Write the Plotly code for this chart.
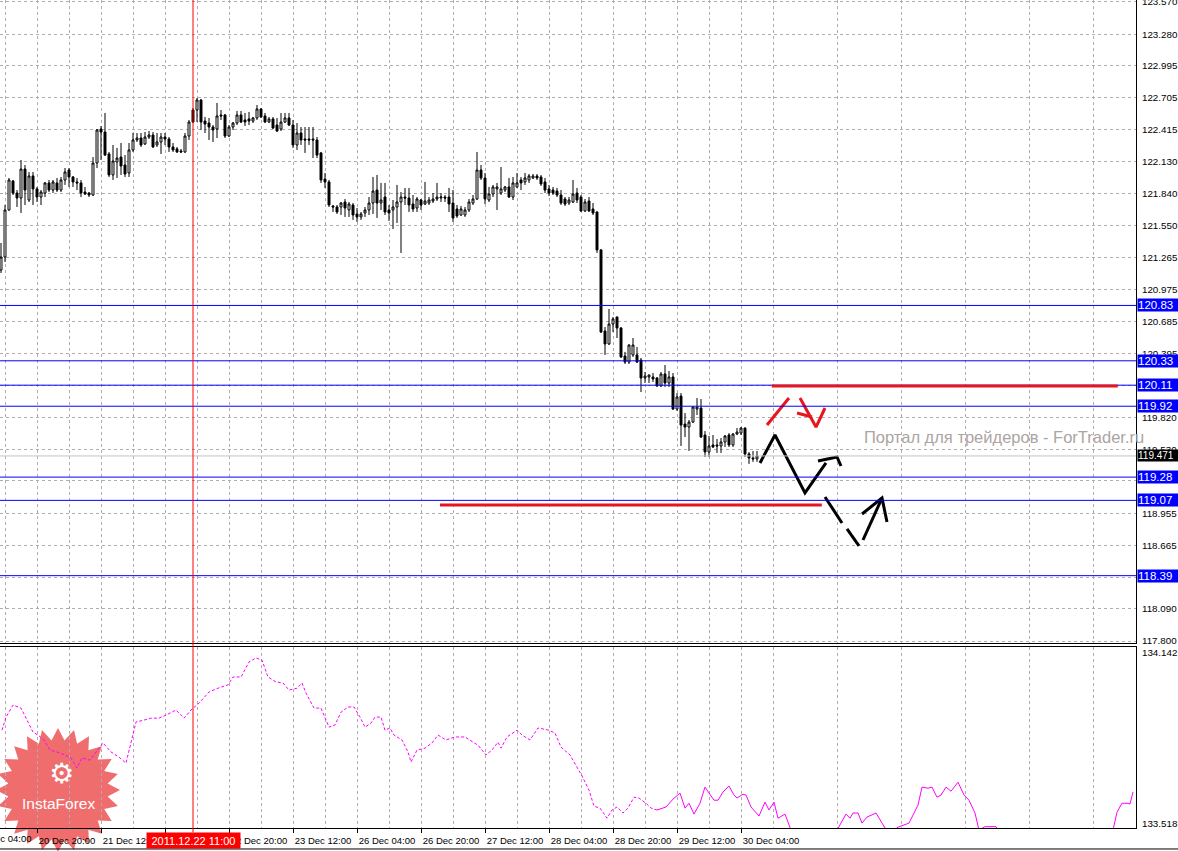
import math
import plotly.graph_objects as go

# ---------------- DATA ----------------
# H1 candles, bar 0 = 20 Dec 11:00
opens = [
    121.150, 121.267, 121.692, 121.954, 121.845, 121.800, 122.062, 121.782, 121.999, 121.882,
    121.809, 121.845, 121.936, 121.872, 121.936, 121.872, 121.963, 122.053, 121.990, 121.945,
    121.936, 121.854, 121.845, 121.827, 122.116, 122.423, 122.396, 122.198, 122.008, 122.125,
    122.170, 122.098, 122.026, 122.234, 122.324, 122.342, 122.288, 122.351, 122.369, 122.279,
    122.306, 122.351, 122.333, 122.261, 122.243, 122.225, 122.216, 122.360, 122.595, 122.595,
    122.685, 122.495, 122.477, 122.441, 122.423, 122.550, 122.550, 122.360, 122.441, 122.477,
    122.550, 122.505, 122.514, 122.495, 122.523, 122.604, 122.541, 122.486, 122.514, 122.459,
    122.423, 122.486, 122.523, 122.459, 122.279, 122.387, 122.333, 122.333, 122.333, 122.324,
    122.207, 121.972, 121.945, 121.728, 121.719, 121.719, 121.764, 121.692, 121.737, 121.656,
    121.629, 121.665, 121.692, 121.755, 121.872, 121.755, 121.809, 121.692, 121.692, 121.719,
    121.764, 121.809, 121.800, 121.746, 121.710, 121.782, 121.746, 121.755, 121.773, 121.791,
    121.800, 121.809, 121.809, 121.755, 121.701, 121.647, 121.647, 121.692, 121.755, 121.791,
    122.053, 121.981, 121.782, 121.836, 121.882, 121.845, 121.872, 121.900, 121.809, 121.900,
    121.963, 121.945, 121.963, 121.981, 121.999, 121.990, 121.945, 121.882, 121.872, 121.863,
    121.827, 121.791, 121.755, 121.764, 121.845, 121.809, 121.683, 121.773, 121.701, 121.674,
    121.331, 120.599, 120.482, 120.662, 120.726, 120.626, 120.374, 120.319, 120.383, 120.383,
    120.337, 120.175, 120.184, 120.184, 120.175, 120.103, 120.211, 120.130, 120.184, 119.895,
    120.012, 119.759, 119.732, 119.777, 119.895, 119.904, 119.660, 119.507, 119.570, 119.570,
    119.561, 119.597, 119.660, 119.570, 119.669, 119.678, 119.723, 119.489, 119.453, 119.444,
]
highs = [
    121.394, 121.737, 121.981, 121.963, 121.872, 122.143, 122.098, 122.035, 122.035, 121.900,
    121.872, 121.945, 121.963, 121.963, 121.981, 121.990, 122.071, 122.071, 121.999, 121.981,
    121.963, 121.900, 121.854, 122.170, 122.423, 122.450, 122.568, 122.216, 122.279, 122.252,
    122.297, 122.188, 122.297, 122.387, 122.387, 122.387, 122.396, 122.405, 122.396, 122.387,
    122.387, 122.387, 122.351, 122.297, 122.261, 122.243, 122.387, 122.505, 122.613, 122.703,
    122.694, 122.532, 122.523, 122.459, 122.658, 122.595, 122.559, 122.459, 122.486, 122.586,
    122.586, 122.568, 122.577, 122.532, 122.640, 122.613, 122.568, 122.532, 122.532, 122.523,
    122.568, 122.568, 122.568, 122.505, 122.477, 122.441, 122.441, 122.441, 122.441, 122.351,
    122.216, 122.026, 121.963, 121.737, 121.737, 121.764, 121.791, 121.764, 121.755, 121.710,
    121.674, 121.719, 121.809, 121.990, 122.008, 121.936, 121.936, 121.737, 121.782, 121.918,
    121.854, 121.891, 121.891, 121.827, 121.809, 121.791, 121.945, 121.809, 121.845, 121.936,
    121.845, 121.827, 121.891, 121.872, 121.737, 121.728, 121.719, 121.791, 121.827, 122.216,
    122.098, 122.026, 121.900, 121.918, 121.936, 122.080, 121.909, 121.981, 121.990, 122.026,
    121.990, 122.026, 122.017, 122.017, 122.017, 122.008, 121.981, 121.918, 121.900, 121.891,
    121.872, 121.809, 121.809, 121.963, 121.891, 121.827, 121.791, 121.809, 121.755, 121.680,
    121.340, 120.635, 120.798, 120.726, 120.730, 120.635, 120.410, 120.478, 120.536, 120.455,
    120.356, 120.229, 120.205, 120.220, 120.184, 120.229, 120.292, 120.238, 120.220, 120.039,
    120.039, 119.859, 119.796, 119.918, 119.994, 119.985, 119.696, 119.651, 119.660, 119.624,
    119.633, 119.660, 119.678, 119.678, 119.723, 119.732, 119.728, 119.507, 119.516, 119.516,
]
lows = [
    121.123, 121.222, 121.685, 121.827, 121.719, 121.665, 121.737, 121.764, 121.737, 121.764,
    121.737, 121.809, 121.854, 121.845, 121.854, 121.854, 121.918, 121.900, 121.900, 121.872,
    121.809, 121.827, 121.809, 121.818, 122.071, 122.143, 122.180, 121.990, 121.963, 121.981,
    122.008, 121.990, 121.990, 122.216, 122.306, 122.261, 122.279, 122.333, 122.252, 122.261,
    122.198, 122.279, 122.216, 122.216, 122.207, 122.207, 122.207, 122.324, 122.477, 122.486,
    122.414, 122.387, 122.324, 122.306, 122.342, 122.505, 122.342, 122.351, 122.414, 122.459,
    122.477, 122.450, 122.459, 122.477, 122.505, 122.523, 122.477, 122.477, 122.423, 122.396,
    122.405, 122.477, 122.450, 122.252, 122.234, 122.279, 122.207, 122.279, 122.161, 122.161,
    121.936, 121.891, 121.719, 121.674, 121.656, 121.647, 121.629, 121.629, 121.602, 121.584,
    121.602, 121.629, 121.647, 121.656, 121.620, 121.692, 121.647, 121.593, 121.520, 121.575,
    121.304, 121.737, 121.674, 121.674, 121.674, 121.692, 121.737, 121.737, 121.755, 121.773,
    121.764, 121.764, 121.674, 121.584, 121.620, 121.638, 121.629, 121.674, 121.737, 121.782,
    121.963, 121.746, 121.764, 121.809, 121.692, 121.827, 121.854, 121.800, 121.782, 121.891,
    121.872, 121.918, 121.936, 121.972, 121.963, 121.909, 121.845, 121.818, 121.827, 121.809,
    121.737, 121.728, 121.737, 121.755, 121.755, 121.674, 121.674, 121.674, 121.647, 121.304,
    120.581, 120.383, 120.473, 120.590, 120.536, 120.356, 120.301, 120.301, 120.365, 120.310,
    120.048, 120.130, 120.130, 120.139, 120.094, 120.094, 120.094, 120.094, 119.886, 119.877,
    119.561, 119.642, 119.516, 119.768, 119.841, 119.633, 119.462, 119.462, 119.543, 119.498,
    119.498, 119.552, 119.552, 119.552, 119.660, 119.660, 119.462, 119.399, 119.417, 119.417,
]
closes = [
    121.267, 121.692, 121.963, 121.845, 121.800, 122.062, 121.872, 121.999, 121.882, 121.809,
    121.854, 121.936, 121.872, 121.945, 121.872, 121.963, 122.035, 121.990, 121.945, 121.936,
    121.845, 121.836, 121.827, 122.116, 122.414, 122.396, 122.188, 122.008, 122.134, 122.161,
    122.089, 122.017, 122.234, 122.324, 122.342, 122.279, 122.351, 122.369, 122.261, 122.306,
    122.351, 122.333, 122.261, 122.234, 122.216, 122.216, 122.360, 122.486, 122.486, 122.685,
    122.486, 122.468, 122.441, 122.414, 122.541, 122.541, 122.360, 122.441, 122.477, 122.550,
    122.486, 122.486, 122.495, 122.523, 122.604, 122.532, 122.486, 122.514, 122.432, 122.405,
    122.486, 122.523, 122.459, 122.279, 122.387, 122.324, 122.324, 122.324, 122.324, 122.188,
    121.963, 121.945, 121.737, 121.719, 121.674, 121.755, 121.710, 121.746, 121.647, 121.629,
    121.656, 121.692, 121.755, 121.863, 121.755, 121.782, 121.674, 121.665, 121.719, 121.764,
    121.809, 121.800, 121.737, 121.701, 121.791, 121.737, 121.773, 121.782, 121.791, 121.809,
    121.809, 121.800, 121.746, 121.620, 121.638, 121.701, 121.692, 121.764, 121.791, 122.053,
    121.981, 121.791, 121.836, 121.900, 121.900, 121.882, 121.900, 121.809, 121.936, 121.936,
    121.936, 121.981, 121.999, 121.999, 121.981, 121.927, 121.872, 121.845, 121.845, 121.827,
    121.755, 121.746, 121.782, 121.836, 121.782, 121.683, 121.764, 121.683, 121.665, 121.331,
    120.590, 120.482, 120.662, 120.708, 120.626, 120.365, 120.319, 120.473, 120.473, 120.319,
    120.175, 120.193, 120.202, 120.166, 120.103, 120.211, 120.130, 120.184, 119.895, 120.003,
    119.750, 119.732, 119.777, 119.913, 119.913, 119.642, 119.507, 119.561, 119.552, 119.561,
    119.597, 119.651, 119.570, 119.669, 119.687, 119.723, 119.489, 119.453, 119.444, 119.471,
]
bar_index = list(range(len(opens)))

# Indicator (second panel), bar positions and values
ind_dot_x = [0.25, 1.25, 3, 5, 6.5, 8, 9.25, 10.75, 12.25, 14,
             16, 17.5, 19, 20.25, 22.25, 24.25, 25.5, 27.5, 29.5, 31.25,
             32.25, 33.75, 35.75, 37.5, 39.5, 41.25, 43.75, 45.75, 47.5, 49.5,
             52, 54.25, 56.75, 58, 60, 62, 63.75, 65.25, 66.75, 68.75,
             70.5, 72, 74, 75.25, 76.25, 78.25, 80, 81, 82, 83.5,
             85, 86.75, 88.25, 89.75, 91, 92.5, 93.5, 95, 96, 97.25,
             98.25, 100.25, 101.75, 102.5, 104, 106, 107.75, 109.25, 111.25, 113.5,
             116, 118, 119.25, 121.25, 122.75, 124.25, 125, 126.5, 129, 130.25,
             132.25, 134.25, 137, 138.5, 140, 142.25, 144.25, 145.25, 147, 148.25,
             149.75, 151.5, 152.75, 154, 155.5, 156.75, 158.25, 159.5, 161.25, 162.5,
             164]
ind_dot_v = [133.859, 133.907, 133.951, 133.940, 133.896, 133.852, 133.841, 133.823, 133.786, 133.779,
             133.768, 133.757, 133.720, 133.757, 133.749, 133.786, 133.812, 133.779, 133.760, 133.738,
             133.797, 133.889, 133.896, 133.903, 133.903, 133.914, 133.933, 133.903, 133.933, 133.958,
             133.999, 134.013, 134.025, 134.054, 134.054, 134.109, 134.124, 134.116, 134.054, 134.036,
             134.032, 134.006, 134.013, 134.032, 133.995, 133.940, 133.940, 133.907, 133.870, 133.878,
             133.925, 133.944, 133.944, 133.907, 133.870, 133.885, 133.907, 133.907, 133.859, 133.867,
             133.841, 133.823, 133.779, 133.742, 133.786, 133.793, 133.812, 133.841, 133.823, 133.834,
             133.834, 133.815, 133.804, 133.768, 133.786, 133.815, 133.793, 133.834, 133.859, 133.841,
             133.823, 133.867, 133.859, 133.848, 133.797, 133.768, 133.720, 133.691, 133.639, 133.580,
             133.573, 133.536, 133.566, 133.577, 133.555, 133.573, 133.613, 133.610, 133.591, 133.573,
             133.566]
ind_solid_x = [164, 166.25, 168, 169.75, 171, 172, 173.25, 174.75, 176, 178.25,
               179.25, 180.5, 182, 183.25, 184, 185.5, 186.25, 187.5, 189.5, 191,
               192, 193.25, 194.25, 196, 197.5, 200, 203.5, 207, 209, 211.25,
               212.25, 213, 214.25, 215.25, 216.5, 218.75, 221, 222.5, 224.25, 227,
               229.25, 230.25, 231.75, 232.75, 234, 235, 236.25, 237.5, 239.25, 240.75,
               242, 243.5, 244.5, 246, 248.75, 250, 258, 268, 276, 278,
               279, 280.25, 281.5, 282.25, 283]
ind_solid_v = [133.566, 133.577, 133.606, 133.628, 133.573, 133.591, 133.551, 133.591, 133.650, 133.602,
               133.602, 133.632, 133.654, 133.621, 133.610, 133.624, 133.621, 133.577, 133.544, 133.595,
               133.566, 133.595, 133.536, 133.551, 133.492, 133.460, 133.440, 133.470, 133.492, 133.551,
               133.536, 133.555, 133.555, 133.518, 133.540, 133.555, 133.500, 133.485, 133.503, 133.518,
               133.584, 133.650, 133.646, 133.650, 133.613, 133.621, 133.650, 133.635, 133.668, 133.621,
               133.602, 133.555, 133.492, 133.505, 133.505, 133.470, 133.430, 133.420, 133.450, 133.492,
               133.558, 133.591, 133.591, 133.588, 133.632]

# Horizontal levels
blue_levels = [120.83, 120.33, 120.11, 119.92, 119.28, 119.07, 118.39]
current_price = 119.471
red_level_upper = dict(price=120.103, start=192.7, end=279.2)
red_level_lower = dict(price=119.028, start=109.75, end=205.2)
cursor_bar = 48
cursor_label = "2011.12.22 11:00"

# Hand-drawn forecast arrows (bar position, price); None separates strokes
red_arrow_x = [191.5, 197, None, 199.75, 203.75, 206, None, 199, 202.75]
red_arrow_y = [119.750, 119.994, None, 119.994, 119.732, 119.904, None, 119.859, 119.823]
black_arrow_x = [189.75, 193.5, 201, 206.25, None, 204.25, 209, 210]
black_arrow_y = [119.408, 119.660, 119.137, 119.408, None, 119.426, 119.462, 119.380]
black_dash_x = [206, 210.25, None, 211.5, 214.5, None, 215.5, 220.25, None, 215.25, 220.25, 221.5]
black_dash_y = [119.100, 118.866, None, 118.812, 118.658, None, 118.712, 119.091, None, 118.947, 119.091, 118.875]

# Axis ticks ("" = label fully covered by a level tag in the original)
price_ticks = [123.570, 123.280, 122.995, 122.705, 122.415, 122.130, 121.840, 121.550, 121.265,
               120.975, 120.685, 120.395, 120.105, 119.820, 119.530, 119.245, 118.955, 118.665,
               118.375, 118.090, 117.800]
price_tick_text = ["123.570", "123.280", "122.995", "122.705", "122.415", "122.130", "121.840",
                   "121.550", "121.265", "120.975", "120.685", "120.395", "", "119.820", "119.530",
                   "", "118.955", "118.665", "", "118.090", "117.800"]
ind_ticks = [134.142, 133.518]
time_tick_bars = [9, 25, 41, 57, 73, 89, 105, 121, 137, 153, 169, 185]
time_tick_labels = ["20 Dec 20:00", "21 Dec 12:00", "", "22 Dec 20:00", "23 Dec 12:00",
                    "26 Dec 04:00", "26 Dec 20:00", "27 Dec 12:00", "28 Dec 04:00", "28 Dec 20:00",
                    "29 Dec 12:00", "30 Dec 04:00"]
first_time_label = "20 Dec 04:00"   # bar -7, mostly scrolled off the left edge

# ---------------- STYLE ----------------
GRID = "#b4a9b6"
GRID_DASH = "3px,3px"
AXFONT = dict(family="Liberation Sans", size=9.8, color="black")
DATEFONT = dict(family="Liberation Sans", size=9.5, color="black")
X_RANGE = [-0.25, 283.75]

fig = go.Figure()

fig.add_trace(go.Candlestick(
    x=bar_index, open=opens, high=highs, low=lows, close=closes,
    increasing=dict(line=dict(color="black", width=1), fillcolor="white"),
    decreasing=dict(line=dict(color="black", width=1), fillcolor="black"),
    whiskerwidth=0, showlegend=False, hoverinfo="skip", xaxis="x", yaxis="y"))

fig.add_trace(go.Scatter(x=red_arrow_x, y=red_arrow_y, mode="lines",
                         line=dict(color="#e8161c", width=3), connectgaps=False,
                         showlegend=False, hoverinfo="skip", xaxis="x", yaxis="y"))
fig.add_trace(go.Scatter(x=black_arrow_x, y=black_arrow_y, mode="lines",
                         line=dict(color="black", width=3), connectgaps=False,
                         showlegend=False, hoverinfo="skip", xaxis="x", yaxis="y"))
fig.add_trace(go.Scatter(x=black_dash_x, y=black_dash_y, mode="lines",
                         line=dict(color="black", width=3), connectgaps=False,
                         showlegend=False, hoverinfo="skip", xaxis="x", yaxis="y"))

fig.add_trace(go.Scatter(x=ind_dot_x, y=ind_dot_v, mode="lines",
                         line=dict(color="#ff00ff", width=1, dash="3px,2px"),
                         showlegend=False, hoverinfo="skip", xaxis="x2", yaxis="y2"))
fig.add_trace(go.Scatter(x=ind_solid_x, y=ind_solid_v, mode="lines",
                         line=dict(color="#ff00ff", width=1),
                         showlegend=False, hoverinfo="skip", xaxis="x2", yaxis="y2"))

shapes = []
# InstaForex star badge (decoration)
pts = []
for k in range(48):
    ang = math.pi / 2 + k * math.pi / 24
    r = 62 if k % 2 == 0 else 50
    pts.append((58 + r * math.cos(ang), 39 + r * math.sin(ang)))
star_path = "M " + " L ".join(f"{x:.1f},{y:.1f}" for x, y in pts) + " Z"
shapes.append(dict(type="path", xref="paper", yref="paper", xsizemode="pixel", ysizemode="pixel",
                   xanchor=0, yanchor=0, path=star_path, fillcolor="rgba(236,84,84,0.85)",
                   line=dict(width=0), layer="below"))

# bid line
shapes.append(dict(type="line", xref="paper", x0=0, x1=1, yref="y", y0=current_price, y1=current_price,
                   line=dict(color="#c4c4c4", width=1)))
for lvl in blue_levels:
    shapes.append(dict(type="line", xref="paper", x0=0, x1=1, yref="y", y0=lvl, y1=lvl,
                       line=dict(color="#0000ff", width=1)))
for rl in (red_level_upper, red_level_lower):
    shapes.append(dict(type="line", xref="x", x0=rl["start"], x1=rl["end"], yref="y",
                       y0=rl["price"], y1=rl["price"], line=dict(color="#e8161c", width=3)))
# cursor line
shapes.append(dict(type="line", xref="x", x0=cursor_bar, x1=cursor_bar, yref="paper", y0=-0.004, y1=1,
                   line=dict(color="#ff0000", width=1)))
# bottom frame line
shapes.append(dict(type="line", xref="paper", x0=0, x1=1.04, yref="paper", y0=-0.0241, y1=-0.0241,
                   line=dict(color="black", width=1)))

annotations = []
for lvl in blue_levels:
    annotations.append(dict(xref="paper", x=1, xanchor="left", xshift=1, yref="y", y=lvl, yanchor="middle",
                            text=f"{lvl:.2f}", showarrow=False, bgcolor="#0000ff",
                            font=dict(family="Liberation Sans", size=11.5, color="white"),
                            width=40, height=12, align="left", borderpad=0))
annotations.append(dict(xref="paper", x=1, xanchor="left", xshift=1, yref="y", y=current_price,
                        yanchor="middle", text=f"{current_price:.3f}", showarrow=False, bgcolor="black",
                        font=dict(family="Liberation Sans", size=10, color="white"),
                        width=40, height=11, align="left", borderpad=0))
annotations.append(dict(xref="x", x=cursor_bar, xanchor="center", yref="paper", y=-0.004, yanchor="top",
                        text=cursor_label, showarrow=False, bgcolor="#ff0000",
                        font=dict(family="Liberation Sans", size=11, color="white"),
                        width=93, height=15, borderpad=0))
annotations.append(dict(xref="paper", x=-27 / 1136, xanchor="left", yref="paper", y=-10 / 829,
                        yanchor="middle", text=first_time_label, showarrow=False, font=DATEFONT))
annotations.append(dict(xref="paper", x=862 / 1136, xanchor="left", yref="paper", y=(829 - 437) / 829,
                        yanchor="middle", text="Портал для трейдеров - ForTrader.ru", showarrow=False,
                        font=dict(family="Liberation Sans", size=16.5, color="#aca4a2")))
annotations.append(dict(xref="paper", x=61 / 1136, xanchor="center", yref="paper", y=(829 - 773) / 829,
                        yanchor="middle", text="⚙", showarrow=False,
                        font=dict(family="DejaVu Sans", size=28, color="white")))
annotations.append(dict(xref="paper", x=58 / 1136, xanchor="center", yref="paper", y=(829 - 803) / 829,
                        yanchor="middle", text="InstaForex", showarrow=False,
                        font=dict(family="Liberation Sans", size=15.5, color="white")))

common_x = dict(range=X_RANGE, tickmode="array", tickvals=time_tick_bars,
                showgrid=True, gridcolor=GRID, griddash=GRID_DASH, gridwidth=1,
                minor=dict(tickmode="linear", tick0=1, dtick=16, showgrid=True, gridcolor=GRID,
                           griddash=GRID_DASH, gridwidth=1, ticks=""),
                zeroline=False, showline=True, linecolor="black", linewidth=1, fixedrange=True,
                automargin=False)

fig.update_layout(
    width=1178, height=851, margin=dict(l=0, r=42, t=0, b=22, autoexpand=False),
    paper_bgcolor="white", plot_bgcolor="white", showlegend=False,
    xaxis=dict(domain=[0, 1], anchor="y", showticklabels=False, ticks="",
               rangeslider=dict(visible=False), **common_x),
    yaxis=dict(domain=[0.22437, 1], anchor="x", side="right", range=[117.782, 123.588],
               tickmode="array", tickvals=price_ticks, ticktext=price_tick_text,
               showgrid=True, gridcolor=GRID, griddash=GRID_DASH, gridwidth=1, ticks="",
               ticklabelstandoff=3, ticklabeloverflow="allow", zeroline=False, showline=True,
               linecolor="black", linewidth=1, tickfont=AXFONT, fixedrange=True, automargin=False),
    xaxis2=dict(domain=[0, 1], anchor="y2", ticktext=time_tick_labels, ticks="outside", ticklen=4,
                tickcolor="black", ticklabelshift=30, tickfont=DATEFONT,
                mirror=True, **common_x),
    yaxis2=dict(domain=[0.0012, 0.2195], anchor="x2", side="right", range=[133.500, 134.164],
                tickmode="array", tickvals=ind_ticks, ticktext=[f"{t:.3f}" for t in ind_ticks],
                showgrid=False, ticks="", ticklabelstandoff=3, zeroline=False, showline=True,
                linecolor="black", linewidth=1, tickfont=AXFONT, fixedrange=True, automargin=False),
    shapes=shapes, annotations=annotations,
)

fig.write_html("out.html", config={"displayModeBar": False},
               post_script="document.body.style.margin='0';document.body.style.overflow='hidden';")
